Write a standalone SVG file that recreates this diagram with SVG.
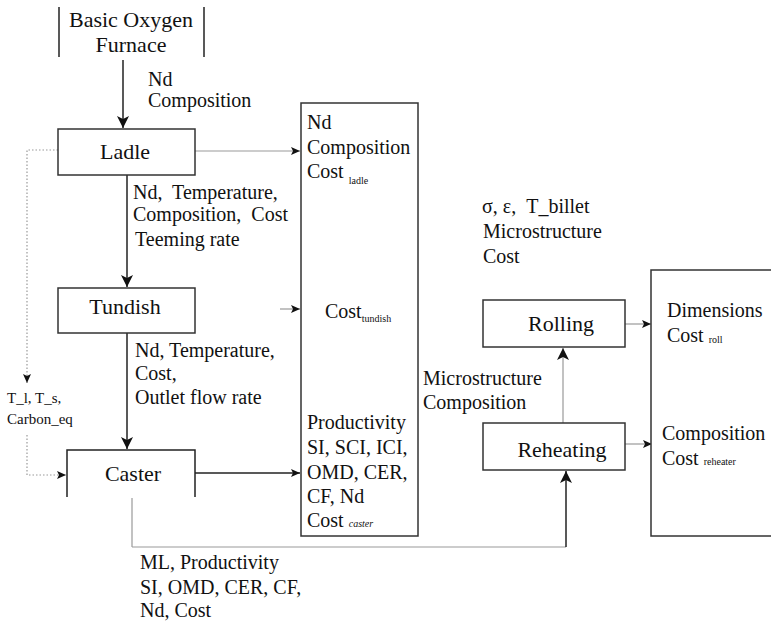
<svg xmlns="http://www.w3.org/2000/svg" width="771" height="625" viewBox="0 0 771 625" font-family="'Liberation Serif', 'Times New Roman', serif">
<defs>
<style>
text{font-family:'Liberation Serif','Times New Roman',serif;fill:#111}
.lbl{font-size:20px}
.box{font-size:22px}
.sm{font-size:15px}
.sub{font-size:10px}
.pre{white-space:pre}
.n{fill:#fff;stroke:#333;stroke-width:1.5}
.c{fill:none;stroke:#222;stroke-width:1.5}
.g{fill:none;stroke:#999;stroke-width:1.2}
.d{fill:none;stroke:#999;stroke-width:1.2;stroke-dasharray:1.5 2}
</style>
<marker id="big" viewBox="0 0 12 16" refX="12" refY="6" markerWidth="12" markerHeight="16" markerUnits="userSpaceOnUse" orient="auto">
<path d="M0,0 L12,6 L0,12 L3,6 Z" fill="#111"/>
</marker>
<marker id="small" viewBox="0 0 9 8" refX="9" refY="4" markerWidth="9" markerHeight="8" markerUnits="userSpaceOnUse" orient="auto">
<path d="M0,0 L9,4 L0,8 L2,4 Z" fill="#111"/>
</marker>
</defs>

<g id="connectors">
<line class="c" x1="123" y1="60" x2="123" y2="128" marker-end="url(#big)"/>
<line class="c" x1="127" y1="175" x2="127" y2="287" marker-end="url(#big)"/>
<line class="c" x1="127" y1="333" x2="127" y2="449" marker-end="url(#big)"/>
<line class="g" x1="195" y1="151" x2="300" y2="151" marker-end="url(#small)"/>
<line class="g" x1="280" y1="309" x2="300" y2="309" stroke="#ccc" marker-end="url(#small)"/>
<line class="c" x1="195" y1="473" x2="300" y2="473" stroke-width="1.2" marker-end="url(#small)"/>
<polyline class="d" points="58,150 27,150 27,383" marker-end="url(#small)"/>
<polyline class="d" points="27,435 27,475 66,475" marker-end="url(#small)"/>
<line class="g" x1="132" y1="498" x2="132" y2="547" stroke="#444"/>
<line class="g" x1="132" y1="547" x2="566" y2="547" stroke="#bbb"/>
<line class="c" x1="566" y1="547" x2="566" y2="471" marker-end="url(#big)"/>
<line class="g" x1="563" y1="423" x2="563" y2="348" marker-end="url(#big)"/>
<line class="g" x1="625" y1="324" x2="651" y2="324" marker-end="url(#small)"/>
<line class="g" x1="625" y1="444" x2="652" y2="444" marker-end="url(#small)"/>
</g>

<g id="bof">
<line class="c" x1="59" y1="7" x2="59" y2="57" stroke-width="1.2"/>
<line class="c" x1="204" y1="7" x2="204" y2="57" stroke-width="1.2"/>
<text class="box" x="131" y="27" text-anchor="middle" font-size="22">Basic Oxygen</text>
<text class="box" x="131" y="52" text-anchor="middle" font-size="22">Furnace</text>
</g>

<g id="ladle">
<rect class="n" x="58" y="129" width="137" height="46"/>
<text class="box" x="125" y="159" text-anchor="middle">Ladle</text>
</g>

<g id="tundish">
<rect class="n" x="58" y="288" width="137" height="45"/>
<text class="box" x="125" y="314" text-anchor="middle">Tundish</text>
</g>

<g id="caster">
<polyline class="c" points="67,497 67,450 195,450 195,497" stroke="#333"/>
<text class="box" x="133" y="481" text-anchor="middle">Caster</text>
</g>

<g id="summary">
<rect class="n" x="301" y="103" width="117" height="433"/>
<text class="lbl" x="307" y="129">Nd</text>
<text class="lbl" x="307" y="154">Composition</text>
<text class="lbl" x="307" y="178">Cost <tspan class="sub" dy="6">ladle</tspan></text>
<text class="lbl" x="325" y="318">Cost<tspan class="sub" font-size="12" dy="4">tundish</tspan></text>
<text class="lbl" x="307" y="429">Productivity</text>
<text class="lbl" x="307" y="454">SI, SCI, ICI,</text>
<text class="lbl" x="307" y="479">OMD, CER,</text>
<text class="lbl" x="307" y="503">CF, Nd</text>
<text class="lbl" x="307" y="527">Cost <tspan class="sub" font-style="italic">caster</tspan></text>
</g>

<g id="rolling">
<rect class="n" x="483" y="300" width="142" height="47"/>
<text class="box" x="561" y="331" text-anchor="middle">Rolling</text>
</g>

<g id="reheating">
<rect class="n" x="483" y="423" width="142" height="47" stroke="#888"/>
<text class="box" x="562" y="457" text-anchor="middle">Reheating</text>
</g>

<g id="output">
<rect class="n" x="651" y="270" width="130" height="266"/>
<text class="lbl" x="667" y="317">Dimensions</text>
<text class="lbl" x="667" y="342">Cost <tspan class="sub" dy="1">roll</tspan></text>
<text class="lbl" x="662" y="440">Composition</text>
<text class="lbl" x="662" y="465">Cost <tspan class="sub" font-size="11">reheater</tspan></text>
</g>

<g id="labels">
<text class="lbl" x="148" y="86">Nd</text>
<text class="lbl" x="148" y="107">Composition</text>
<text class="lbl pre" x="133" y="199">Nd,  Temperature,</text>
<text class="lbl pre" x="133" y="221">Composition,  Cost</text>
<text class="lbl" x="135" y="246">Teeming rate</text>
<text class="lbl" x="135" y="357">Nd, Temperature,</text>
<text class="lbl" x="135" y="380">Cost,</text>
<text class="lbl" x="135" y="404">Outlet flow rate</text>
<text class="sm" x="7" y="403">T_l, T_s,</text>
<text class="sm" x="7" y="424">Carbon_eq</text>
<text class="lbl" x="140" y="569">ML, Productivity</text>
<text class="lbl" x="140" y="594">SI, OMD, CER, CF,</text>
<text class="lbl" x="140" y="617">Nd, Cost</text>
<text class="lbl pre" x="482" y="213">σ, ε,  T_billet</text>
<text class="lbl" x="483" y="238">Microstructure</text>
<text class="lbl" x="483" y="263">Cost</text>
<text class="lbl" x="423" y="385">Microstructure</text>
<text class="lbl" x="423" y="409">Composition</text>
</g>
</svg>
